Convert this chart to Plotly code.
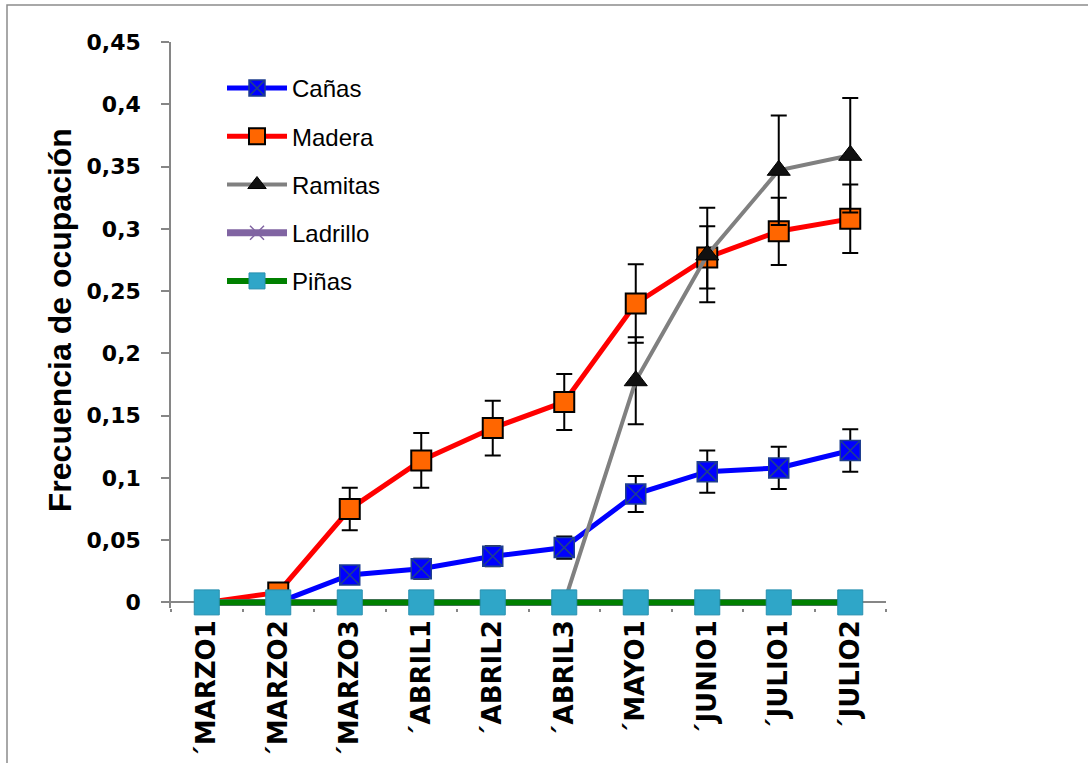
import plotly.graph_objects as go

categories = ["´MARZO1", "´MARZO2", "´MARZO3", "´ABRIL1", "´ABRIL2",
              "´ABRIL3", "´MAYO1", "´JUNIO1", "´JULIO1", "´JULIO2"]

canas = [0, 0, 0.022, 0.027, 0.037, 0.044, 0.087, 0.105, 0.108, 0.122]
canas_err = [0, 0, 0.004, 0.008, 0.008, 0.009, 0.0145, 0.017, 0.017, 0.017]

madera = [0, 0.008, 0.075, 0.114, 0.140, 0.161, 0.240, 0.277, 0.298, 0.308]
madera_err = [0, 0, 0.017, 0.022, 0.022, 0.0225, 0.0315, 0.025, 0.027, 0.0275]

ramitas = [0, 0, 0, 0, 0, 0, 0.178, 0.279, 0.347, 0.359]
ramitas_err = [0, 0, 0, 0, 0, 0, 0.035, 0.038, 0.044, 0.046]

ladrillo = [0, 0, 0, 0, 0, 0, 0, 0, 0, 0]
pinas = [0, 0, 0, 0, 0, 0, 0, 0, 0, 0]

W, H = 1088, 763
Y_MIN, Y_MAX = -0.0045, 0.45
L, R, T = 171, 886, 42
ZERO_PX = 602
scale = (ZERO_PX - T) / Y_MAX
B = ZERO_PX + (-Y_MIN) * scale  # bottom of plotting area in px

def px_x(px):
    return (px - L) / (R - L)

def px_y(py):
    return (B - py) / (B - T)

err_style = dict(type="data", symmetric=True, color="black", thickness=2, width=8)

fig = go.Figure()

fig.add_trace(go.Scatter(
    x=categories, y=canas, name="Cañas", mode="lines+markers",
    line=dict(color="#0000FF", width=5),
    marker=dict(symbol="square-x", size=20, color="#0000FF",
                line=dict(color="#1F3F8F", width=1.5)),
    error_y=dict(array=canas_err, **err_style),
    legendgroup="a", cliponaxis=False))

fig.add_trace(go.Scatter(
    x=categories, y=madera, name="Madera", mode="lines+markers",
    line=dict(color="#FF0000", width=5),
    marker=dict(symbol="square", size=20, color="#FF6600",
                line=dict(color="black", width=2)),
    error_y=dict(array=madera_err, **err_style),
    legendgroup="b", cliponaxis=False))

fig.add_trace(go.Scatter(
    x=categories, y=ramitas, name="Ramitas", mode="lines+markers",
    line=dict(color="#808080", width=4),
    marker=dict(symbol="triangle-up", size=20, color="#111111",
                line=dict(color="black", width=1)),
    error_y=dict(array=ramitas_err, **err_style),
    legendgroup="c", cliponaxis=False))

fig.add_trace(go.Scatter(
    x=categories, y=ladrillo, name="Ladrillo", mode="lines+markers",
    line=dict(color="#8064A2", width=7),
    marker=dict(symbol="x-thin", size=14, color="#8064A2",
                line=dict(color="#8064A2", width=1.5)),
    legendgroup="d", cliponaxis=False))

fig.add_trace(go.Scatter(
    x=categories, y=pinas, name="Piñas", mode="lines+markers",
    line=dict(color="#008000", width=6),
    marker=dict(symbol="square", size=25, color="#2FA6C8",
                line=dict(color="#2890B0", width=1)),
    legendgroup="e", cliponaxis=False))

fig.update_layout(
    width=W, height=H,
    margin=dict(l=L, r=W - R, t=T, b=H - B, pad=0, autoexpand=False),
    paper_bgcolor="white", plot_bgcolor="white",
    showlegend=True,
    legend=dict(
        x=px_x(222), y=px_y(66), xanchor="left", yanchor="top",
        font=dict(family="Liberation Sans", size=24, color="black"),
        itemwidth=60, tracegroupgap=14, traceorder="grouped",
        bgcolor="rgba(0,0,0,0)"),
    xaxis=dict(
        type="category", range=[-0.5, 9.5], automargin=False,
        showline=False, zeroline=False,
        ticks="outside", tickson="boundaries", ticklen=3, tickcolor="#868686",
        tickwidth=1.5,
        tickangle=-90, ticklabelstandoff=6,
        tickfont=dict(family="DejaVu Sans", size=26, color="black", weight="bold"),
        showgrid=False),
    yaxis=dict(
        range=[Y_MIN, Y_MAX], automargin=False,
        tickvals=[0, 0.05, 0.1, 0.15, 0.2, 0.25, 0.3, 0.35, 0.4, 0.45],
        tickformat=".2~f",
        showline=True, linecolor="#868686", linewidth=1.5,
        ticks="outside", ticklen=8, tickcolor="#868686", tickwidth=1.5,
        ticklabelstandoff=16,
        tickfont=dict(family="DejaVu Sans", size=22, color="black", weight="bold"),
        showgrid=False, zeroline=True, zerolinecolor="#868686", zerolinewidth=1.5),
    separators=",.",
    annotations=[dict(
        text="Frecuencia de ocupación", textangle=-90,
        xref="paper", yref="paper", x=px_x(60), y=px_y(320),
        xanchor="center", yanchor="middle", showarrow=False,
        font=dict(family="Liberation Sans", size=32, color="black", weight="bold"))],
    shapes=[dict(
        type="rect", xref="paper", yref="paper",
        x0=px_x(7), x1=px_x(1092), y0=px_y(766), y1=px_y(5),
        line=dict(color="#8C8C8C", width=1.5), fillcolor="rgba(0,0,0,0)",
        layer="below")],
)

fig.write_html("out.html", config={"displayModeBar": False},
               post_script="document.body.style.margin='0px';")
